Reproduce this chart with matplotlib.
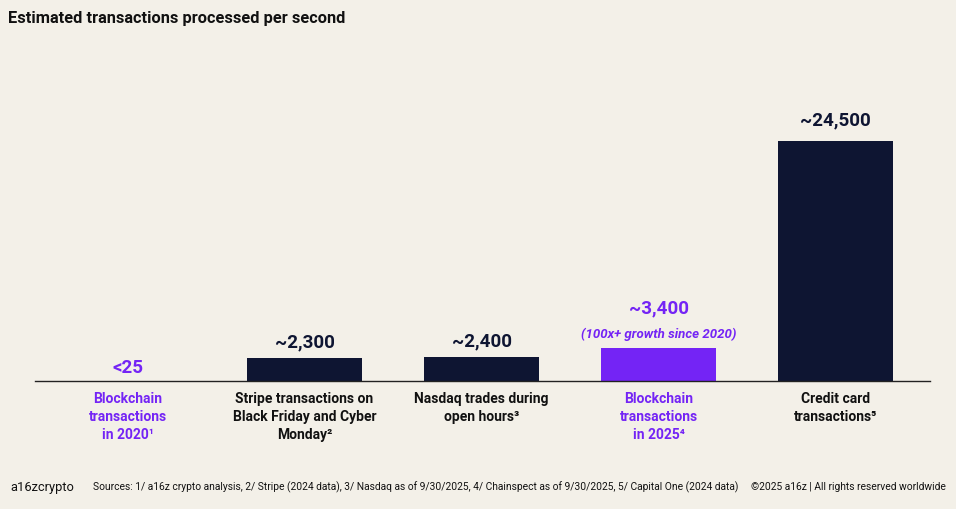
import matplotlib
matplotlib.use('Agg')
import matplotlib.pyplot as plt

# Data
categories = ['Blockchain\ntransactions\nin 2020¹',
              'Stripe transactions on\nBlack Friday and Cyber\nMonday²',
              'Nasdaq trades during\nopen hours³',
              'Blockchain\ntransactions\nin 2025⁴',
              'Credit card\ntransactions⁵']
values = [25, 2300, 2400, 3400, 24500]
value_labels = ['<25', '~2,300', '~2,400', '~3,400', '~24,500']
highlight = [True, False, False, True, False]

bg = '#f3f0e8'
navy = '#0e1532'
purple = '#7424f5'
fam = ['Roboto', 'DejaVu Sans']

plt.rcParams['font.family'] = fam

fig = plt.figure(figsize=(9.56, 5.09), dpi=100)
fig.patch.set_facecolor(bg)
ax = fig.add_axes([35 / 956, 1 - 381 / 509, 895 / 956, 240 / 509])
ax.set_facecolor(bg)

x = list(range(len(values)))
colors = [purple if h else navy for h in highlight]
ax.bar(x, values, width=0.65, color=colors, zorder=2)

ax.set_xlim(-0.523, 4.534)
ax.set_ylim(0, 24500)
for s in ax.spines.values():
    s.set_visible(False)
ax.spines['bottom'].set_visible(True)
ax.spines['bottom'].set_color('#222222')
ax.spines['bottom'].set_linewidth(1.0)
ax.set_yticks([])
ax.set_xticks([])

# Value labels above bars (offsets in points)
label_offsets = [3, 5, 5, 22, 8]
for i, (v, lab, h) in enumerate(zip(values, value_labels, highlight)):
    c = purple if h else navy
    if i == 3:
        ax.annotate('(100x+ growth since 2020)', (i, v), xytext=(0, 5),
                    textcoords='offset points', ha='center', va='bottom',
                    fontsize=9.5, fontweight='bold', fontstyle='italic',
                    color=purple, annotation_clip=False)
    ax.annotate(lab, (i, v), xytext=(0, label_offsets[i]),
                textcoords='offset points', ha='center', va='bottom',
                fontsize=13.5, fontweight='bold', color=c,
                annotation_clip=False)

# Category labels below axis
for i, (cat, h) in enumerate(zip(categories, highlight)):
    ax.annotate(cat, (i, 0), xytext=(0, -8), textcoords='offset points',
                ha='center', va='top', fontsize=10, fontweight='bold',
                color=purple if h else '#111111', linespacing=1.35,
                annotation_clip=False)

# Title and footer
fig.text(8 / 956, 1 - 18 / 509, 'Estimated transactions processed per second',
         fontsize=11.8, fontweight='bold', color='#111111', va='center')
fig.text(10 / 956, 1 - 487 / 509, 'a16zcrypto', fontsize=9.3,
         color='#111111', va='center')
fig.text(93 / 956, 1 - 487 / 509,
         'Sources: 1/ a16z crypto analysis, 2/ Stripe (2024 data), '
         '3/ Nasdaq as of 9/30/2025, 4/ Chainspect as of 9/30/2025, '
         '5/ Capital One (2024 data)',
         fontsize=7.35, color='#111111', va='center')
fig.text(946 / 956, 1 - 487 / 509,
         '©2025 a16z | All rights reserved worldwide',
         fontsize=7.35, color='#111111', va='center', ha='right')

fig.savefig('out.png', dpi=100, facecolor=bg)
